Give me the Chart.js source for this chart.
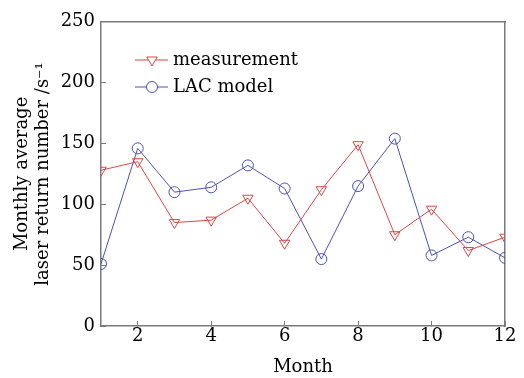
<!DOCTYPE html>
<html>
<head>
<meta charset="utf-8">
<script src="https://cdn.jsdelivr.net/npm/chart.js@4"></script>
<style>
  html, body { margin: 0; padding: 0; background: #fff; }
  #wrap { width: 524px; height: 378px; }
</style>
</head>
<body>
<div id="wrap"><canvas id="grafico" width="524" height="378"></canvas></div>
<script>
// dados
const months = [1, 2, 3, 4, 5, 6, 7, 8, 9, 10, 11, 12];
const measurement = [128, 135, 85, 87, 105, 68, 112, 149, 75, 96, 62, 73];
const lacModel = [51, 146, 110, 114, 132, 113, 55, 115, 154, 58, 73, 56];
const xTicks = [2, 4, 6, 8, 10, 12];
const yTicks = [0, 50, 100, 150, 200, 250];
const seriesNames = ["measurement", "LAC model"];

const red = "#dc4646";
const blue = "#4b52b4";
const cinza = "#7a7a7a";
const fonte = "'DejaVu Serif', serif";

const pontos = (vals) => months.map((m, i) => ({ x: m, y: vals[i] }));

// legenda dentro do gráfico
const legenda = {
  id: "legenda",
  afterDraw(chart) {
    const g = chart.ctx;
    g.save();
    chart.data.datasets.forEach((ds, i) => {
      const y = 60 + i * 27;
      g.strokeStyle = ds.borderColor;
      g.fillStyle = "#fff";
      g.lineWidth = 1;
      g.beginPath();
      g.moveTo(135, y);
      g.lineTo(168, y);
      g.stroke();
      Chart.helpers.drawPoint(g, {
        pointStyle: ds.pointStyle,
        rotation: ds.rotation || 0,
        radius: ds.pointRadius,
        borderWidth: 1
      }, 152, y);
      g.fillStyle = "#000";
      g.font = "18px " + fonte;
      g.textBaseline = "middle";
      g.fillText(ds.label, 173, y);
    });
    g.restore();
  }
};

// eixo "vazio" só para fechar a moldura
const moldura = (pos, min, max, isX) => ({
  type: "linear",
  position: pos,
  min: min,
  max: max,
  display: true,
  grid: { display: false },
  ticks: { display: false },
  border: { display: true, color: cinza, width: 1.5 },
  afterFit: (s) => { if (isX) s.height = 0; else s.width = 0; }
});

const ctx = document.getElementById("grafico").getContext("2d");
new Chart(ctx, {
  type: "line",
  data: {
    datasets: [
      {
        label: seriesNames[0],
        data: pontos(measurement),
        borderColor: red,
        backgroundColor: "rgba(255,255,255,0)",
        borderWidth: 1,
        pointStyle: "triangle",
        rotation: 180,
        pointRadius: 6,
        pointBorderWidth: 1,
        pointBackgroundColor: "rgba(255,255,255,0)",
        fill: false
      },
      {
        label: seriesNames[1],
        data: pontos(lacModel),
        borderColor: blue,
        backgroundColor: "rgba(255,255,255,0)",
        borderWidth: 1,
        pointStyle: "circle",
        pointRadius: 5.5,
        pointBorderWidth: 1,
        pointBackgroundColor: "rgba(255,255,255,0)",
        fill: false
      }
    ]
  },
  options: {
    responsive: false,
    animation: false,
    layout: { autoPadding: false, padding: { left: 0, right: 19, top: 19, bottom: 0 } },
    plugins: { legend: { display: false }, tooltip: { enabled: false } },
    scales: {
      x: {
        type: "linear",
        position: "bottom",
        min: 1,
        max: 12,
        afterBuildTicks: (s) => { s.ticks = xTicks.map((v) => ({ value: v })); },
        afterFit: (s) => { s.height = 52; },
        grid: { display: true, drawOnChartArea: false, drawTicks: true, tickLength: -5, tickColor: cinza, tickWidth: 1 },
        border: { display: true, color: cinza, width: 1.5 },
        ticks: { color: "#000", font: { family: fonte, size: 18 }, padding: 5, maxRotation: 0 },
        title: {
          display: true,
          text: "Month",
          color: "#000",
          font: { family: fonte, size: 18 },
          padding: { top: -2, bottom: 0 }
        }
      },
      y: {
        position: "left",
        min: 0,
        max: 250,
        afterBuildTicks: (s) => { s.ticks = yTicks.map((v) => ({ value: v })); },
        afterFit: (s) => { s.width = 101; },
        grid: { display: true, drawOnChartArea: false, drawTicks: true, tickLength: -5, tickColor: cinza, tickWidth: 1 },
        border: { display: true, color: cinza, width: 1.5 },
        ticks: { color: "#000", font: { family: fonte, size: 18 }, padding: 11 },
        title: {
          display: true,
          text: ["Monthly average", "laser return number /s\u207B\u00B9"],
          color: "#000",
          font: { family: fonte, size: 18, lineHeight: 1.15 },
          padding: { top: 12, bottom: 0 }
        }
      },
      xTop: moldura("top", 1, 12, true),
      yRight: moldura("right", 0, 250, false)
    }
  },
  plugins: [legenda]
});
</script>
</body>
</html>
